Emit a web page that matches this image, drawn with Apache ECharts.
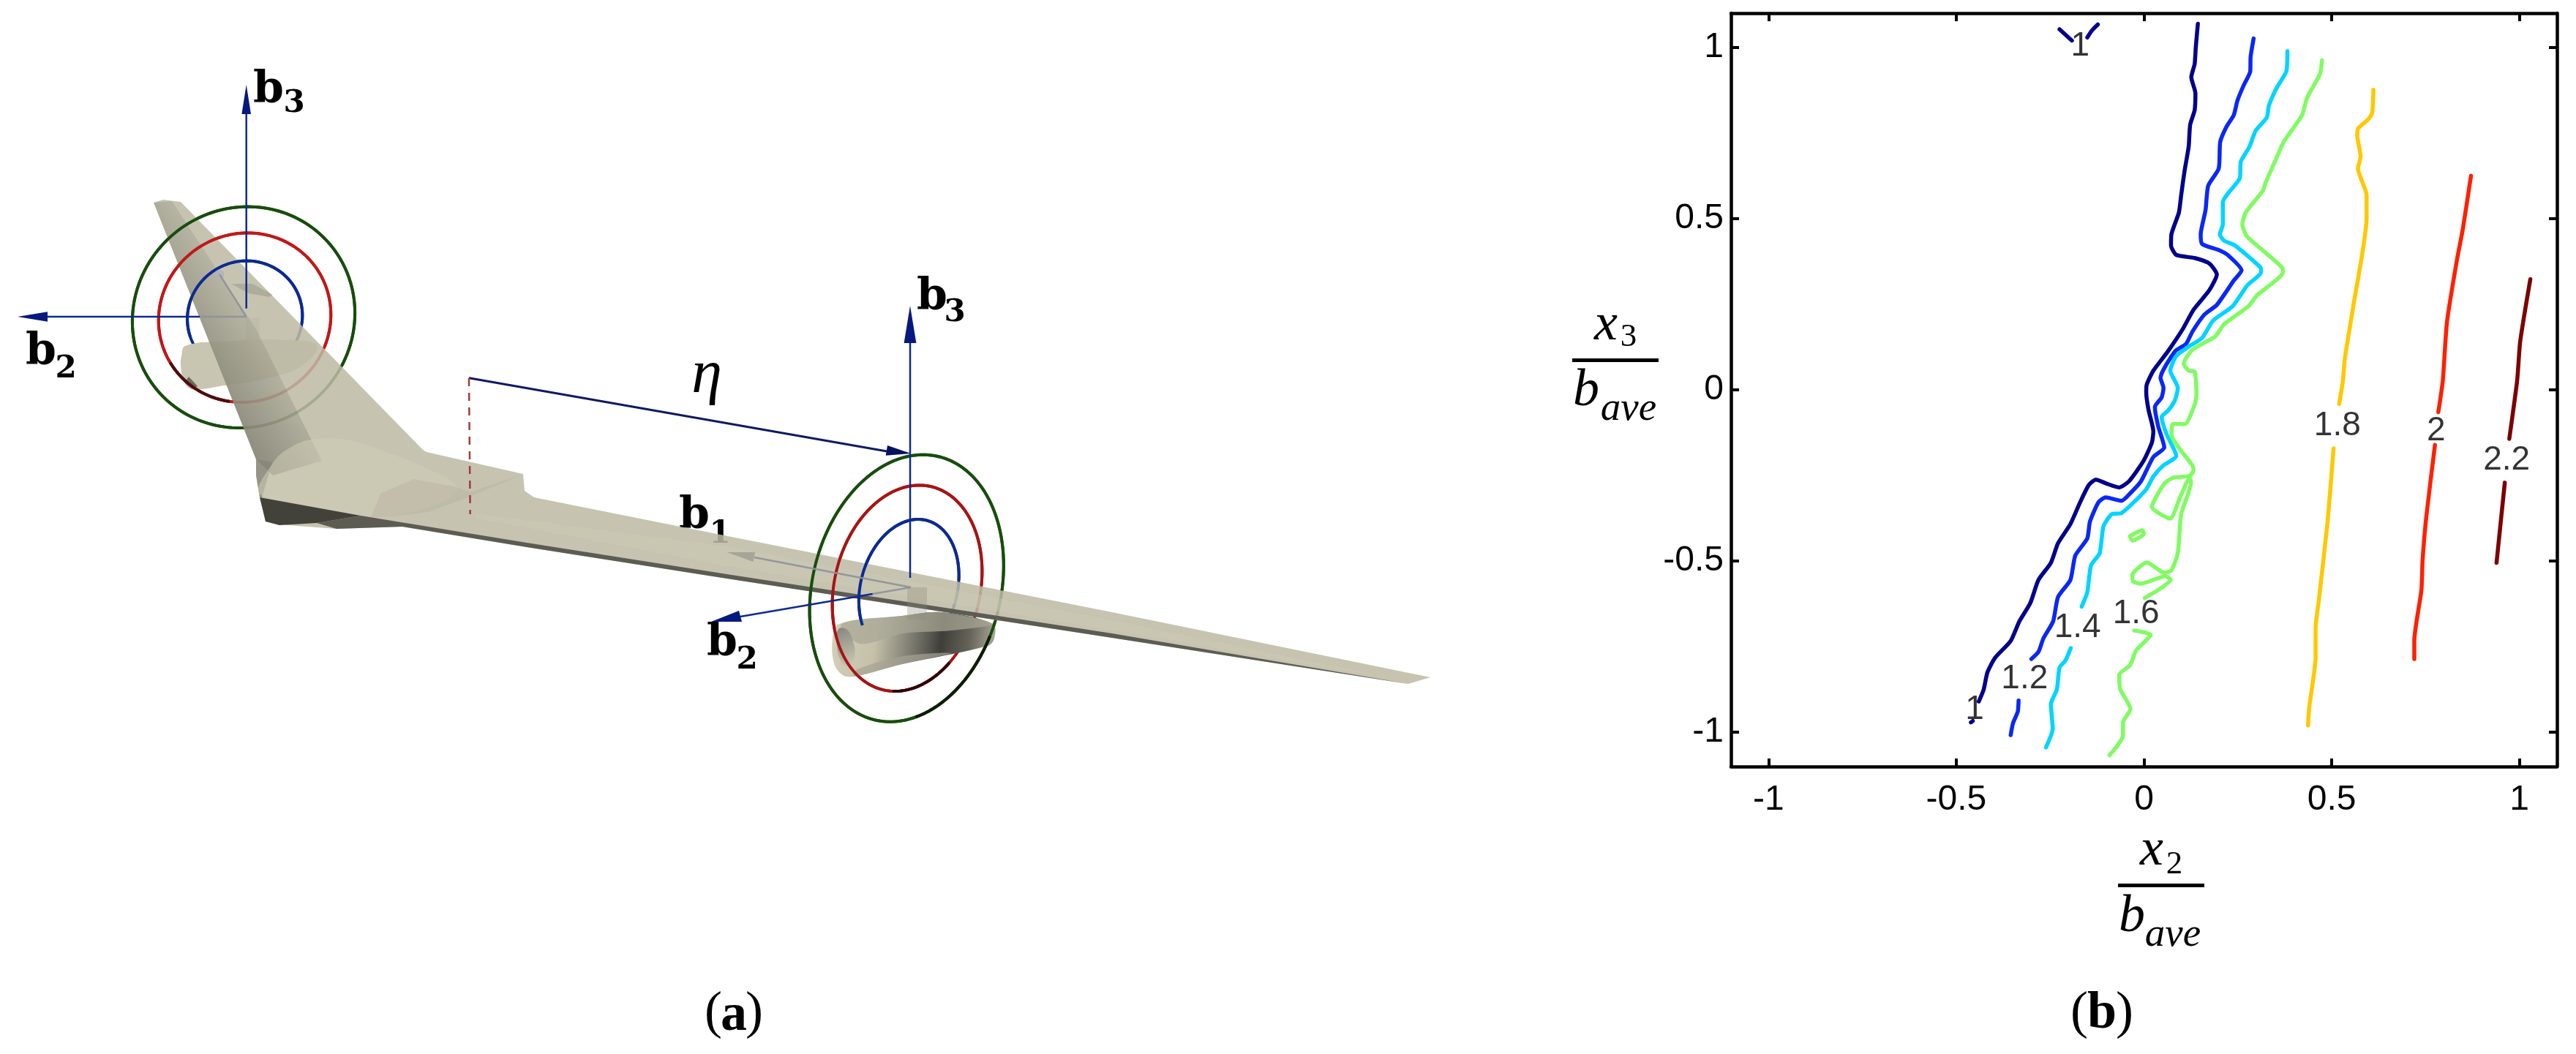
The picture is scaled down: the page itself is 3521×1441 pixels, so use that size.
<!DOCTYPE html>
<html>
<head>
<meta charset="utf-8">
<style>html,body{margin:0;padding:0;background:#fff}#c{width:3521px;height:1441px}</style>
<script src="https://cdn.jsdelivr.net/npm/echarts@6/dist/echarts.min.js"></script>
</head>
<body>
<div id="c"></div>
<script>
// ---------- panel (b): contour values ----------
const tickValues = [-1, -0.5, 0, 0.5, 1];
const contourColors = {'1':'#00008c','1.2':'#0a28f5','1.4':'#00d4ff','1.6':'#80fb62','1.8':'#ffc800','2':'#ff2000','2.2':'#7d0000'};
const contour10 = [
 [[.1435,1.069],[.138,1.001],[.135,.952],[.126,.913],[.137,.866],[.135,.817],[.123,.774],[.119,.710],[.108,.639],[.099,.568],[.093,.518],[.073,.454],[.072,.422],[.086,.394],[.135,.385],[.174,.369],[.194,.337],[.174,.291],[.132,.234],[.103,.177],[.064,.113],[.025,.056],[.007,.014],[.006,-.008],[.012,-.058],[.025,-.122],[.021,-.154],[-.001,-.207],[-.040,-.267],[-.066,-.285],[-.099,-.274],[-.128,-.262],[-.147,-.278],[-.170,-.328],[-.196,-.392],[-.229,-.448],[-.248,-.505],[-.281,-.555],[-.303,-.623],[-.332,-.676],[-.355,-.733],[-.397,-.783],[-.417,-.825],[-.427,-.875],[-.440,-.910]],
 [[-.456,-.967],[-.461,-.971]],
 [[-.225,1.053],[-.192,1.020]],
 [[-.151,1.029],[-.139,1.049],[-.123,1.067]]
];
const contour12 = [
 [[.292,1.026],[.284,.973],[.283,.930],[.265,.888],[.249,.845],[.239,.802],[.219,.767],[.203,.724],[.199,.646],[.171,.596],[.164,.525],[.151,.454],[.155,.426],[.200,.408],[.223,.394],[.260,.349],[.239,.319],[.194,.248],[.161,.220],[.129,.170],[.112,.134],[.083,.113],[.044,.035],[.052,.006],[.047,-.022],[.029,-.050],[.038,-.107],[.054,-.168],[.025,-.196],[-.008,-.267],[-.034,-.299],[-.060,-.324],[-.102,-.314],[-.121,-.328],[-.144,-.385],[-.151,-.434],[-.183,-.484],[-.196,-.555],[-.229,-.605],[-.242,-.676],[-.268,-.726],[-.281,-.765],[-.300,-.786]],
 [[-.334,-.907],[-.336,-.939],[-.349,-.974],[-.355,-1.008]]
];
const contour14 = [
 [[.382,.989],[.379,.930],[.353,.881],[.333,.831],[.327,.795],[.297,.756],[.281,.710],[.258,.667],[.255,.618],[.210,.547],[.210,.483],[.202,.454],[.213,.436],[.242,.422],[.310,.358],[.312,.344],[.275,.305],[.236,.244],[.184,.202],[.155,.152],[.116,.124],[.086,.099],[.070,.056],[.090,.006],[.083,-.029],[.064,-.061],[.047,-.079],[.060,-.129],[.086,-.193],[.051,-.221],[.025,-.253],[.005,-.292],[-.060,-.360],[-.086,-.363],[-.108,-.399],[-.118,-.477],[-.141,-.512],[-.151,-.591],[-.166,-.633]],
 [[-.195,-.754],[-.209,-.790],[-.225,-.811],[-.232,-.875],[-.248,-.918],[-.243,-.989],[-.261,-1.044]]
];
const contour16 = [
 [[.474,.962],[.469,.923],[.434,.852],[.421,.802],[.372,.724],[.349,.667],[.323,.603],[.317,.582],[.271,.518],[.262,.483],[.275,.447],[.369,.355],[.370,.344],[.301,.276],[.278,.244],[.213,.191],[.190,.156],[.129,.117],[.106,.077],[.119,.056],[.135,.053],[.140,-.015],[.135,-.043],[.109,-.100],[.077,-.100],[.073,-.129],[.129,-.221],[.132,-.235],[.122,-.251],[.077,-.257],[.054,-.274],[.021,-.342],[.070,-.376],[.096,-.314],[.122,-.257],[.125,-.271],[.099,-.363],[.090,-.477],[.073,-.527],[.054,-.534],[.008,-.504],[-.031,-.541],[-.029,-.559],[-.008,-.566],[.057,-.544],[.071,-.555],[.044,-.580],[.002,-.608]],
 [[-.037,-.427],[-.005,-.410],[0,-.420],[-.031,-.440],[-.037,-.427]],
 [[-.026,-.703],[.018,-.715],[-.021,-.761],[-.037,-.804],[-.066,-.832],[-.063,-.875],[-.036,-.932],[-.056,-.971],[-.056,-1.010],[-.092,-1.067]]
];
const contour18 = [
 [[.611,.876],[.608,.810],[.599,.792],[.570,.763],[.568,.742],[.577,.682],[.570,.646],[.593,.568],[.593,.504],[.557,.241],[.535,.092],[.530,.028],[.520,-.041]],
 [[.505,-.171],[.489,-.385],[.466,-.612],[.457,-.697],[.457,-.782],[.440,-.928],[.437,-.980]]
];
const contour20 = [
 [[.871,.625],[.849,.468],[.833,.376],[.807,.198],[.796,.028],[.784,-.065]],
 [[.775,-.161],[.752,-.370],[.742,-.498],[.739,-.584],[.720,-.733],[.720,-.786]]
];
const contour22 = [
 [[1.029,.323],[1.002,.141],[.994,.028],[.973,-.143]],
 [[.961,-.271],[.939,-.505]]
];
const contourLabels = [
 ['1',-.170,1.004],['1',-.451,-.935],['1.2',-.318,-.845],['1.4',-.177,-.694],['1.6',-.021,-.655],['1.8',.515,-.106],['2',.778,-.120],['2.2',.966,-.205]
];

// ---------- panel (a): diagram outlines in diagram units ----------
const wingOutline = [[210,277],[223,273],[247,276],[578,615],[583,618],[715,648],[717,671],[730,680],[1000,734],[1520,837],[1955,926],[1925,935],[1520,872],[1000,792],[720,748],[550,720],[460,723],[393,718],[363,713],[355,680],[350,650],[350,628]];
const tailStrip = [[210,277],[235,275],[350,450],[440,630],[373,650],[350,628]];
const tailSmear = [[316,388],[345,388],[373,403],[368,406],[340,401]];
const bodySide = [[350,628],[372,632],[358,680],[355,680],[350,650]];
const rootBlister = [[357,677],[373,633],[400,610],[433,600],[483,603],[533,620],[583,640],[625,668],[590,692],[510,706]];
const rootOverlap = [[507,707],[520,675],[565,655],[620,665],[643,673],[715,648],[640,680],[585,700],[540,706]];
const underside = [[355,680],[493,705],[433,715],[382,718],[363,713]];
const lowerEdge = [[493,705],[720,742],[1000,786],[1520,866],[1925,935],[1520,872],[1000,792],[720,748],[550,720],[460,723],[433,715]];
const wingBand = [[650,702],[1000,748],[1520,848],[1925,932],[1520,862],[1000,775],[650,708]];
const rearNacelle = [[248,487],[253,473],[300,467],[400,465],[433,473],[413,500],[367,517],[307,527],[263,532],[252,523],[247,500]];
const rearInlet = [[252,523],[263,532],[270,528],[258,515]];
const rearPylon = [[336,434],[355,434],[355,465],[336,465]];
const mainNacelle = [[1138,873],[1147,853],[1233,842],[1287,837],[1357,853],[1359,873],[1350,883],[1233,908],[1167,925],[1152,923],[1140,907]];
const mainNacelleTop = [[1150,853],[1233,842],[1287,837],[1357,853],[1300,862],[1235,866],[1175,880]];
const mainNacelleLow = [[1167,925],[1233,908],[1300,893],[1235,897],[1172,915]];
const mainInlet = [[1146,860],[1158,861],[1167,880],[1168,898],[1160,912],[1150,905],[1144,885]];
const mainPylon = [[1240,803],[1267,803],[1267,847],[1240,847]];
// ring rows: centre x, centre y, half-width, top lean, top rise, arc start, arc end (degrees)
const rings = [
 [333,433.8,152,5.8,-151.2,-25.7,268],
 [334.5,434.2,117.7,4,-115.8,-20,265],
 [334.7,433.8,78.6,2.5,-77.2,-5.9,202],
 [1239.2,804.2,130.7,22.5,-182.5,-1,345.5],
 [1240,804.2,101,16.7,-140.8,1.6,314],
 [1242.3,804.2,67.2,12.7,-94.2,6.5,214]
];
const ringColors = ['#174d0c','#c01818','#0c2a92','#174d0c','#a81414','#0c2a92'];
const ringShades = [
 [1239.2,804.2,130.7,22.5,-182.5,285,340],
 [1240,804.2,101,16.7,-140.8,268,314],
 [334.5,434.2,117.7,4,-115.8,212,262]
];
const shadeColors = ['#0d1c08','#2c0808','#4a0f0f'];
const axisShafts = [
 [[336.7,156],[336.7,421.7]],[[65,433],[273,433]],[[1244,469],[1244,790]],[[1012,843],[1192.7,812]]
];
const faintShafts = [[[273,433],[336.5,433]],[[336.5,433],[300,375]],[[1192.7,812],[1245,803]],[[1031,762],[1245,803]]];
const axisHeads = [
 [[336.7,115.8],[343,156],[330.4,156]],[[24,433],[65,426.3],[65,439.7]],[[1244,418],[1252.4,469],[1235.6,469]],[[972,850],[1010,835],[1014,850]]
];
const faintHeads = [[[993.6,755],[1032,755],[1029.5,768]]];
const etaLine = [[641,516.7],[1212,617]];
const etaHead = [[1245,620],[1213,609],[1210.7,622.7]];
const etaDrop = [[641,517],[642.7,703]];

function poly(pts, fill, opacity, smooth){
  return {type:'custom',xAxisIndex:0,yAxisIndex:0,data:pts,silent:true,clip:false,animation:false,
    renderItem:(p,api)=>p.dataIndex?null:{type:'polygon',shape:{points:pts.map(q=>api.coord(q)),smooth:smooth||0},style:{fill:fill,opacity:opacity==null?1:opacity}}};
}
function path(pts, color, width, opacity, dash){
  return {type:'line',xAxisIndex:0,yAxisIndex:0,data:pts,symbol:'none',silent:true,animation:false,clip:false,
    lineStyle:{color:color,width:width,opacity:opacity==null?1:opacity,type:dash||'solid'}};
}
function ringSeries(rows, colors, full, width){
  return {type:'custom',xAxisIndex:0,yAxisIndex:0,data:rows,silent:true,clip:false,animation:false,
    renderItem:(p,api)=>{
      const cx=api.value(0),cy=api.value(1),ux=api.value(2),vx=api.value(3),vy=api.value(4);
      const from=full?0:api.value(5),to=full?360:api.value(6),out=[];
      for(let t=from;t<=to;t+=2){const r=t*Math.PI/180;
        out.push(api.coord([cx+ux*Math.cos(r)+vx*Math.sin(r),cy+vy*Math.sin(r)]));}
      return {type:'polyline',shape:{points:out},style:{fill:'none',stroke:colors[p.dataIndex],lineWidth:width,lineJoin:'round'}};
    }};
}
const series=[];
series.push(ringSeries(rings,ringColors,true,4));
series.push(poly(rearNacelle,'#c8c5b0',1,0.4));
series.push(poly(rearInlet,'#55544c',0.8));
series.push(poly(rearPylon,'#a8a695',0.5));
series.push(poly(mainNacelle,{type:'linear',x:0,y:0,x2:1,y2:0.3,colorStops:[{offset:0,color:'#d4d0b8'},{offset:.28,color:'#c4c0aa'},{offset:.52,color:'#77766c'},{offset:.68,color:'#3f3f3a'},{offset:.85,color:'#65645a'},{offset:1,color:'#a8a695'}]},1,0.35));
series.push(poly(mainNacelleTop,'#a9a796',0.72,0.3));
series.push(poly(mainNacelleLow,'#a5a394',0.7,0.3));
series.push(poly(mainInlet,{type:'linear',x:0,y:0,x2:1,y2:1,colorStops:[{offset:0,color:'#85857d'},{offset:1,color:'#d0ccb6'}]},1,0.4));
series.push(poly(wingOutline,'#bdbaa4',0.86));
series.push(poly(tailStrip,{type:'linear',x:0.25,y:0.6,x2:0.75,y2:0.4,colorStops:[{offset:0,color:'rgba(90,88,78,0.5)'},{offset:.55,color:'rgba(90,88,78,0.22)'},{offset:1,color:'rgba(90,88,78,0)'}]},1));
series.push(poly(tailSmear,'#77756a',0.3));
series.push(poly(bodySide,'#85847a',0.75));
series.push(poly(rootBlister,'#d0ccb6',0.55,0.4));
series.push(poly(rootOverlap,'#8d8a76',0.14));
series.push(poly(wingBand,'#cdcab4',0.35));
series.push(poly(lowerEdge,'#5d5c53',1));
series.push(poly(underside,'#42423b',1));
series.push(poly(mainPylon,'#8b897a',0.32));
series.push(ringSeries(rings,ringColors,false,4));
series.push(ringSeries(ringShades,shadeColors,false,4));
faintShafts.forEach(s=>series.push(path(s,'#8f919a',2.5,0.9)));
faintHeads.forEach(h=>series.push(poly(h,'#a6a597',1)));
series.push({type:'scatter',xAxisIndex:0,yAxisIndex:0,data:[[300,375]],symbolSize:13,silent:true,animation:false,itemStyle:{color:'#aeb1bb'}});
axisShafts.forEach(s=>series.push(path(s,'#0c2a92',2.5)));
axisHeads.forEach(h=>series.push(poly(h,'#06197f')));
series.push(path(etaLine,'#0f1a63',3));
series.push(poly(etaHead,'#06125f'));
series.push(path(etaDrop,'#a33a3a',2.5,1,[11,9]));

[['1',contour10],['1.2',contour12],['1.4',contour14],['1.6',contour16],['1.8',contour18],['2',contour20],['2.2',contour22]].forEach(([lev,segs])=>{
  segs.forEach(seg=>series.push({type:'line',name:lev,xAxisIndex:1,yAxisIndex:1,data:seg,symbol:'none',smooth:0.2,animation:false,silent:true,clip:false,
    lineStyle:{color:contourColors[lev],width:5.5,cap:'round',join:'round'}}));
});
series.push({type:'scatter',xAxisIndex:1,yAxisIndex:1,symbolSize:1,animation:false,silent:true,itemStyle:{color:'transparent'},
  data:contourLabels.map(l=>({name:l[0],value:[l[1],l[2]]})),
  label:{show:true,position:'inside',formatter:'{b}',fontFamily:'Liberation Sans',fontSize:46,color:'#000'}});

const frameAxis=(o)=>Object.assign({type:'value',gridIndex:1,min:-1.1,max:1.1,splitLine:{show:false},
  axisLine:{show:true,onZero:false,lineStyle:{color:'#000',width:4.5}},
  axisTick:{show:true,inside:true,length:11,lineStyle:{color:'#000',width:4},customValues:tickValues}},o);
const labelStyle={fontFamily:'Liberation Sans',fontSize:48,color:'#000',customValues:tickValues,showMinLabel:true,showMaxLabel:true};

function tx(text,x,y,font,extra){return {type:'text',x:x,y:y,silent:true,style:Object.assign({text:text,font:font,fill:'#000',textAlign:'center',textVerticalAlign:'middle'},extra||{})};}
const bold='bold 60px "DejaVu Serif"',sub='bold 42px "DejaVu Serif"';
const it=s=>'italic '+s+'px "Liberation Serif"';
const graphicEls=[
 tx('b',367,124,bold),tx('3',402,142,sub),
 tx('b',56,482,bold),tx('2',90,505,sub),
 tx('b',1274,407,bold),tx('3',1305,428,sub),
 tx('b',949,706,bold),tx('1',984,731,sub),
 tx('b',987,880,bold),tx('2',1021,903,sub),
 tx('η',966,514,it(84)),
 tx('x',2941,1163,it(72)),tx('2',2972,1182,'45px "Liberation Serif"'),
 {type:'rect',silent:true,shape:{x:2895,y:1208,width:118,height:5},style:{fill:'#000'}},
 tx('b',2914,1254,it(72)),tx('ave',2970,1279,it(55)),
 tx('x',2195,445,it(72)),tx('3',2226,461,'45px "Liberation Serif"'),
 {type:'rect',silent:true,shape:{x:2149,y:490,width:118,height:5},style:{fill:'#000'}},
 tx('b',2168,535,it(72)),tx('ave',2226,560,it(55)),
 tx('(',975,1386,'72px "Liberation Serif"'),tx('a',1003,1389,'bold 72px "Liberation Serif"'),tx(')',1031,1386,'72px "Liberation Serif"'),
 tx('(',2842,1386,'72px "Liberation Serif"'),tx('b',2873,1386,'bold 72px "Liberation Serif"'),tx(')',2904,1386,'72px "Liberation Serif"')
];

const chart=echarts.init(document.getElementById('c'),null,{renderer:'canvas',width:3521,height:1441,devicePixelRatio:1});
chart.setOption({
  animation:false,backgroundColor:'#fff',
  grid:[{left:0,top:0,width:2100,height:1441},{left:2366,top:18,width:1129,height:1030}],
  xAxis:[
    {type:'value',gridIndex:0,min:0,max:2100,show:false},
    frameAxis({position:'bottom',axisLabel:Object.assign({margin:22},labelStyle)}),
    frameAxis({position:'top',axisLabel:{show:false}})
  ],
  yAxis:[
    {type:'value',gridIndex:0,min:0,max:1441,inverse:true,show:false},
    frameAxis({position:'left',axisLabel:Object.assign({margin:10},labelStyle)}),
    frameAxis({position:'right',axisLabel:{show:false}})
  ],
  series:series,
  graphic:{elements:graphicEls}
});
</script>
</body>
</html>
